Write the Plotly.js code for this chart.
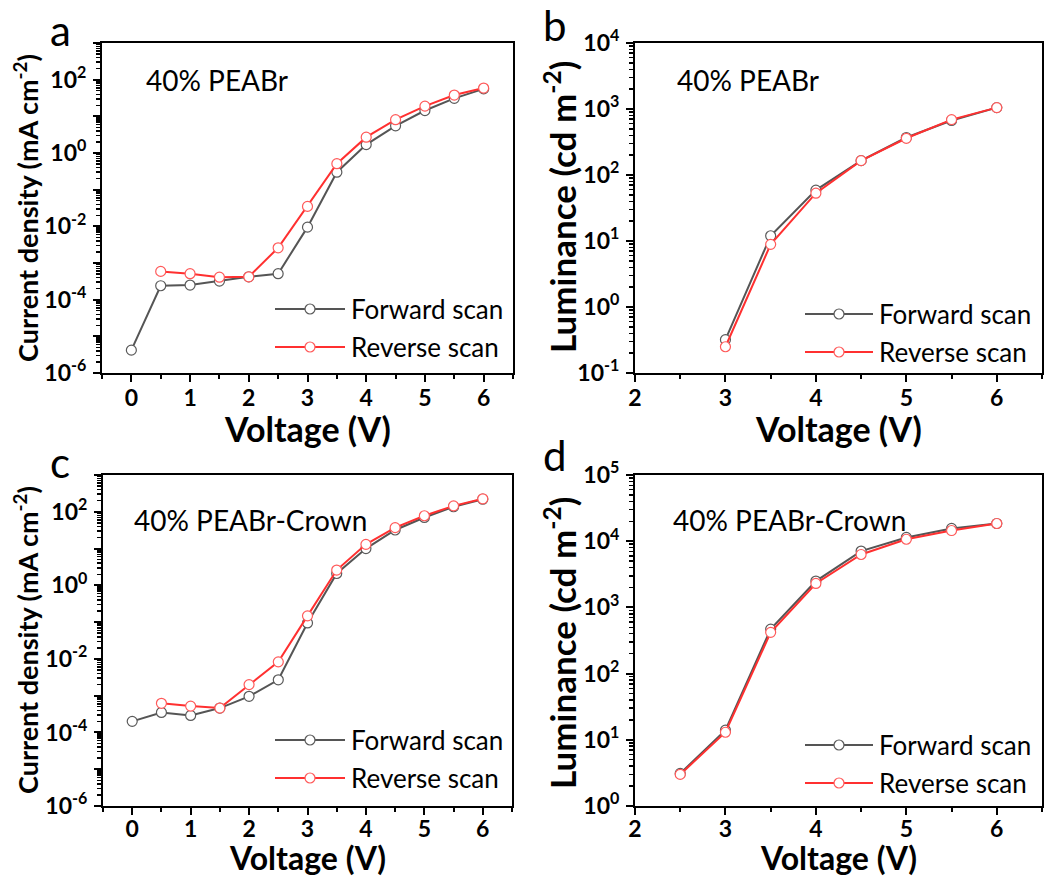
<!DOCTYPE html>
<html>
<head>
<meta charset="utf-8">
<script src="https://cdn.plot.ly/plotly-3.0.1.min.js"></script>
<style>
  html, body { margin: 0; padding: 0; background: #fff; }
  #fig { width: 1045px; height: 876px; }
</style>
</head>
<body>
<div id="fig"></div>
<script>
// ---- Data: J–V (current density, mA cm^-2) and L–V (luminance, cd m^-2) ----
// Panel a: 40% PEABr, current density
const voltFwdA = [0, 0.5, 1, 1.5, 2, 2.5, 3, 3.5, 4, 4.5, 5, 5.5, 6];
const jFwdA    = [4.2e-6, 2.4e-4, 2.5e-4, 3.2e-4, 4.2e-4, 5.1e-4, 9.5e-3, 0.30, 1.7, 5.5, 14.4, 31, 56];
const voltRevA = [0.5, 1, 1.5, 2, 2.5, 3, 3.5, 4, 4.5, 5, 5.5, 6];
const jRevA    = [5.9e-4, 5.1e-4, 4.1e-4, 4.2e-4, 2.6e-3, 0.035, 0.51, 2.7, 8.1, 19, 38, 59];

// Panel b: 40% PEABr, luminance
const voltB  = [3, 3.5, 4, 4.5, 5, 5.5, 6];
const lumFwdB = [0.32, 12, 59, 165, 370, 670, 1050];
const lumRevB = [0.25, 8.9, 53, 165, 360, 690, 1050];

// Panel c: 40% PEABr-Crown, current density
const voltFwdC = [0, 0.5, 1, 1.5, 2, 2.5, 3, 3.5, 4, 4.5, 5, 5.5, 6];
const jFwdC    = [2.0e-4, 3.5e-4, 2.9e-4, 4.6e-4, 9.6e-4, 2.7e-3, 0.095, 2.1, 10, 32, 70, 137, 220];
const voltRevC = [0.5, 1, 1.5, 2, 2.5, 3, 3.5, 4, 4.5, 5, 5.5, 6];
const jRevC    = [6.2e-4, 5.2e-4, 4.6e-4, 2.0e-3, 8.3e-3, 0.148, 2.6, 13, 37, 78, 145, 225];

// Panel d: 40% PEABr-Crown, luminance
const voltD   = [2.5, 3, 3.5, 4, 4.5, 5, 5.5, 6];
const lumFwdD = [3.1, 14, 470, 2500, 7100, 11400, 15600, 18500];
const lumRevD = [3.0, 13, 420, 2300, 6300, 10700, 14500, 18500];

// Tick labels
const voltTicksJ = [0, 1, 2, 3, 4, 5, 6];
const voltTicksL = [2, 3, 4, 5, 6];
const expJ = [-6, -5, -4, -3, -2, -1, 0, 1, 2, 3];   // every decade ticked, even ones labelled
const expLB = [-1, 0, 1, 2, 3, 4];
const expLD = [0, 1, 2, 3, 4, 5];

const seriesNames = ['Forward scan', 'Reverse scan'];
const sampleNames = ['40% PEABr', '40% PEABr-Crown'];
const panelLetters = ['a', 'b', 'c', 'd'];

// ---- Styling ----
const W = 1045, H = 876;
const FONT = 'Lato, "Open Sans", "DejaVu Sans", sans-serif';
const GREY = '#555555', GREY_MK = '#5a5a5a';
const RED = '#ff3030', RED_MK = '#ff5a5a';

const px = x => x / W;
const py = y => 1 - y / H;

function powTicks(exps, labelEvery) {
  return {
    tickvals: exps.map(e => Math.pow(10, e)),
    ticktext: exps.map(e => (((e % labelEvery) + labelEvery) % labelEvery === 0)
      ? '10<sup>' + e + '</sup>' : '')
  };
}

function scanTrace(x, y, which, xa, ya) {
  const fwd = which === 0;
  return {
    x: x, y: y, xaxis: xa, yaxis: ya, type: 'scatter', mode: 'lines+markers',
    name: seriesNames[which], showlegend: false,
    line: { color: fwd ? GREY : RED, width: 2 },
    marker: { symbol: 'circle', size: 10, color: '#ffffff',
              line: { color: fwd ? GREY_MK : RED_MK, width: 1.2 } }
  };
}

const data = [
  scanTrace(voltFwdA, jFwdA, 0, 'x', 'y'),
  scanTrace(voltRevA, jRevA, 1, 'x', 'y'),
  scanTrace(voltB, lumFwdB, 0, 'x2', 'y2'),
  scanTrace(voltB, lumRevB, 1, 'x2', 'y2'),
  scanTrace(voltFwdC, jFwdC, 0, 'x3', 'y3'),
  scanTrace(voltRevC, jRevC, 1, 'x3', 'y3'),
  scanTrace(voltD, lumFwdD, 0, 'x4', 'y4'),
  scanTrace(voltD, lumRevD, 1, 'x4', 'y4')
];

const tickFont = { family: FONT, size: 23, color: '#000', weight: 'bold' };

function xAxis(domain, range, ticks, anchor, standoff) {
  return {
    domain: domain, range: range, anchor: anchor,
    tickmode: 'array', tickvals: ticks, ticktext: ticks.map(String),
    ticks: 'outside', ticklen: 7, tickwidth: 2, tickcolor: '#000',
    minor: { tickmode: 'linear', dtick: 0.5, tick0: 0, ticks: 'outside', ticklen: 4, tickwidth: 2, tickcolor: '#000' },
    showline: true, linewidth: 2, linecolor: '#000', mirror: true,
    showgrid: false, zeroline: false, ticklabelstandoff: standoff,
    tickfont: tickFont
  };
}

function yAxis(domain, exps, labelEvery, anchor) {
  const t = powTicks(exps, labelEvery);
  return {
    domain: domain, type: 'log', range: [exps[0], exps[exps.length - 1]], anchor: anchor,
    tickmode: 'array', tickvals: t.tickvals, ticktext: t.ticktext,
    ticks: 'outside', ticklen: 7, tickwidth: 2, tickcolor: '#000',
    minor: { tickmode: 'linear', dtick: 'D1', ticks: 'outside', ticklen: 4, tickwidth: 1.5, tickcolor: '#000' },
    showline: true, linewidth: 2, linecolor: '#000', mirror: true,
    showgrid: false, zeroline: false, ticklabelstandoff: 2,
    tickfont: tickFont
  };
}

// Plot-area boxes (pixels): left, right, top, bottom
const boxes = [
  [102, 513, 43, 373],
  [635, 1042, 43, 373],
  [103, 512, 475, 806],
  [635, 1042, 475, 806]
];
const dx = b => [px(b[0]), px(b[1])];
const dy = b => [py(b[3]), py(b[2])];

const layout = {
  width: W, height: H,
  margin: { l: 0, r: 0, t: 0, b: 0 },
  paper_bgcolor: '#fff', plot_bgcolor: '#fff',
  font: { family: FONT, color: '#000' },
  showlegend: false,
  xaxis:  xAxis(dx(boxes[0]), [-0.5, 6.5], voltTicksJ, 'y', -4),
  yaxis:  yAxis(dy(boxes[0]), expJ, 2, 'x'),
  xaxis2: xAxis(dx(boxes[1]), [2, 6.5], voltTicksL, 'y2', -4),
  yaxis2: yAxis(dy(boxes[1]), expLB, 1, 'x2'),
  xaxis3: xAxis(dx(boxes[2]), [-0.5, 6.5], voltTicksJ, 'y3', -6),
  yaxis3: yAxis(dy(boxes[2]), expJ, 2, 'x3'),
  xaxis4: xAxis(dx(boxes[3]), [2, 6.5], voltTicksL, 'y4', -6),
  yaxis4: yAxis(dy(boxes[3]), expLD, 1, 'x4'),
  annotations: [],
  shapes: []
};

function txt(text, x, y, size, opts) {
  return Object.assign({
    text: text, x: px(x), y: py(y), xref: 'paper', yref: 'paper',
    showarrow: false, xanchor: 'center', yanchor: 'middle',
    font: { family: FONT, size: size, color: '#000' }
  }, opts || {});
}

// Axis titles
const xTitle = 'Voltage (V)';
const yTitleJ = 'Current density (mA cm<sup>-2</sup>)';
const yTitleL = 'Luminance (cd m<sup>-2</sup>)';
const bold = size => ({ family: FONT, size: size, color: '#000', weight: 'bold' });

layout.annotations.push(
  txt(xTitle, 308, 428, 34, { font: bold(34) }),
  txt(xTitle, 838, 428, 34, { font: bold(34) }),
  txt(xTitle, 308, 857, 32, { font: bold(32) }),
  txt(xTitle, 838, 857, 32, { font: bold(32) }),
  txt(yTitleJ, 26, 208, 27, { font: bold(27), textangle: -90 }),
  txt(yTitleL, 560, 207, 35, { font: bold(35), textangle: -90 }),
  txt(yTitleJ, 26, 640, 27, { font: bold(27), textangle: -90 }),
  txt(yTitleL, 560, 643, 35, { font: bold(35), textangle: -90 })
);

// Panel letters
[[60, 30], [555, 25], [60, 462], [555, 455]].forEach((p, i) => {
  layout.annotations.push(txt(panelLetters[i], p[0], p[1], 42));
});

// Sample labels inside each panel
layout.annotations.push(
  txt(sampleNames[0], 144, 80, 28, { xanchor: 'left' }),
  txt(sampleNames[0], 675, 80, 28, { xanchor: 'left' }),
  txt(sampleNames[1], 132, 520, 28, { xanchor: 'left' }),
  txt(sampleNames[1], 671, 520, 28, { xanchor: 'left' })
);

// Legend keys: line + open circle + label
function legendKey(x0, x1, y, which) {
  const fwd = which === 0;
  const xm = (x0 + x1) / 2;
  layout.shapes.push({
    type: 'line', xref: 'paper', yref: 'paper',
    x0: px(x0), x1: px(x1), y0: py(y), y1: py(y),
    line: { color: fwd ? GREY : RED, width: 2 }
  });
  layout.shapes.push({
    type: 'circle', xref: 'paper', yref: 'paper',
    xsizemode: 'pixel', ysizemode: 'pixel', xanchor: px(xm), yanchor: py(y),
    x0: -5, x1: 5, y0: -5, y1: 5,
    fillcolor: '#fff', line: { color: fwd ? GREY_MK : RED_MK, width: 1.2 }
  });
  layout.annotations.push(txt(seriesNames[which], x1 + 4, y, 26, { xanchor: 'left' }));
}
legendKey(275, 345, 309, 0);
legendKey(275, 345, 347, 1);
legendKey(805, 873, 314, 0);
legendKey(805, 873, 352, 1);
legendKey(275, 345, 740, 0);
legendKey(275, 345, 778, 1);
legendKey(805, 873, 745, 0);
legendKey(805, 873, 783, 1);

Plotly.newPlot('fig', data, layout, { displayModeBar: false, staticPlot: true });
</script>
</body>
</html>
